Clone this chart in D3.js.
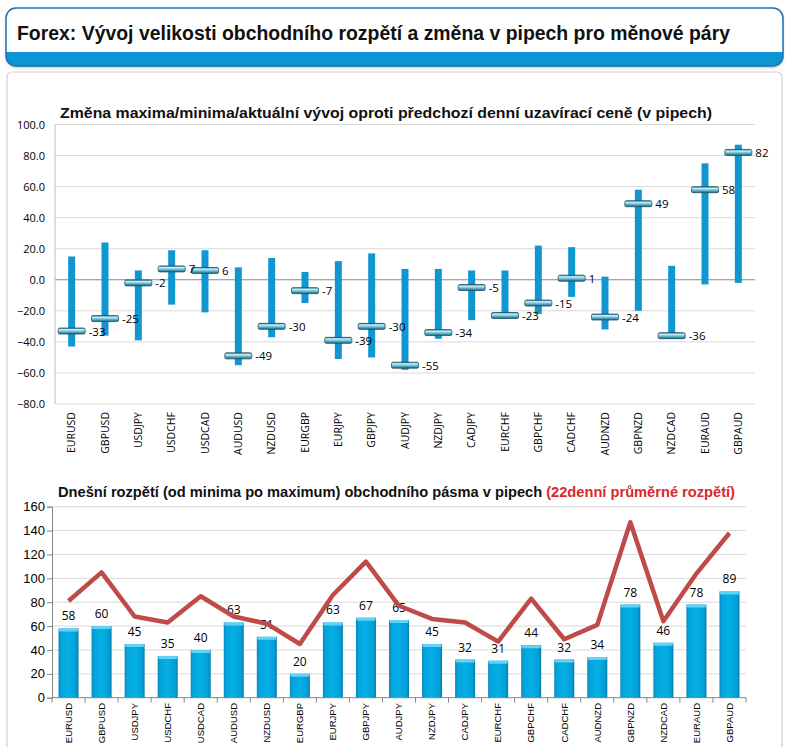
<!DOCTYPE html>
<html><head><meta charset="utf-8">
<script src="https://cdn.jsdelivr.net/npm/d3@7"></script>
<style>html,body{margin:0;padding:0;background:#fff;}svg{display:block;}</style>
</head><body>
<svg id="c" width="794" height="747"></svg>
<script>
const pairs = ["EURUSD","GBPUSD","USDJPY","USDCHF","USDCAD","AUDUSD","NZDUSD","EURGBP","EURJPY","GBPJPY","AUDJPY","NZDJPY","CADJPY","EURCHF","GBPCHF","CADCHF","AUDNZD","GBPNZD","NZDCAD","EURAUD","GBPAUD"];
const highs = [15,24,6,19,19,8,14,5,12,17,7,7,6,6,22,21,2,58,9,75,87];
const lows = [-43,-36,-39,-16,-21,-55,-37,-15,-51,-50,-58,-38,-26,-25,-22,-11,-32,-20,-37,-3,-2];
const current = [-33,-25,-2,7,6,-49,-30,-7,-39,-30,-55,-34,-5,-23,-15,1,-24,49,-36,58,82];
const ranges = [58,60,45,35,40,63,51,20,63,67,65,45,32,31,44,32,34,78,46,78,89];
const avg22 = [81,105,68,63,85,68,62,45,86,114,77,66,63,47,83,49,61,147,64,104,138];
const topTicks = [-80,-60,-40,-20,0,20,40,60,80,100];
const botTicks = [0,20,40,60,80,100,120,140,160];

const svg = d3.select("#c");
const defs = svg.append("defs");

// shadow filter
const f = defs.append("filter").attr("id","sh").attr("x","-5%").attr("y","-20%").attr("width","110%").attr("height","150%");
f.append("feDropShadow").attr("dx",0).attr("dy",1.5).attr("stdDeviation",1.5).attr("flood-color","#000").attr("flood-opacity",0.3);

// marker gradient
const mg = defs.append("linearGradient").attr("id","mk").attr("x1",0).attr("y1",0).attr("x2",0).attr("y2",1);
[["0%","#2f6e7c"],["25%","#c9f0fb"],["55%","#6cc6e4"],["100%","#1b6178"]].forEach(s=>mg.append("stop").attr("offset",s[0]).attr("stop-color",s[1]));
// bottom bar gradient
const bg = defs.append("linearGradient").attr("id","bb").attr("x1",0).attr("y1",0).attr("x2",1).attr("y2",0);
[["0%","#0b86b8"],["12%","#02a4dc"],["50%","#05afe6"],["88%","#019fd7"],["100%","#0a77a3"]].forEach(s=>bg.append("stop").attr("offset",s[0]).attr("stop-color",s[1]));

// ---------- header ----------
defs.append("clipPath").attr("id","hc").append("rect").attr("x",6).attr("y",8).attr("width",777).attr("height",58).attr("rx",10);
svg.append("rect").attr("x",6).attr("y",8).attr("width",777).attr("height",58).attr("rx",10).attr("fill","#fff").attr("filter","url(#sh)");
svg.append("rect").attr("clip-path","url(#hc)").attr("x",6).attr("y",52).attr("width",777).attr("height",14).attr("fill","#0a96d4");
svg.append("rect").attr("x",6).attr("y",8).attr("width",777).attr("height",58).attr("rx",10).attr("fill","none").attr("stroke","#1f6fae").attr("stroke-width",1.5);
svg.append("text").attr("x",17).attr("y",40).attr("font-family","Liberation Sans, Arial, sans-serif").attr("font-weight","bold").attr("font-size",20)
  .attr("textLength",713).attr("lengthAdjust","spacingAndGlyphs").attr("fill","#111")
  .text("Forex: Vývoj velikosti obchodního rozpětí a změna v pipech pro měnové páry");

// ---------- panel ----------
svg.append("rect").attr("x",7).attr("y",72).attr("width",775).attr("height",700).attr("rx",5).attr("fill","#fff").attr("stroke","#cfcfcf").attr("stroke-width",1.2);

// ---------- top chart ----------
const xT = d3.scaleBand().domain(pairs).range([55,755]).padding(0);
const yT = d3.scaleLinear().domain([-80,100]).range([404,124.5]);
const gT = svg.append("g");
gT.selectAll("line.grid").data(topTicks).join("line")
  .attr("x1",55).attr("x2",755).attr("y1",d=>yT(d)).attr("y2",d=>yT(d))
  .attr("stroke",d=>d===0?"#868686":"#d9d9d9").attr("stroke-width",1);
gT.append("line").attr("x1",55).attr("x2",55).attr("y1",yT(100)).attr("y2",yT(-80)).attr("stroke","#bfbfbf");
gT.selectAll("text.yt").data(topTicks).join("text")
  .attr("x",45).attr("y",d=>yT(d)+4).attr("text-anchor","end")
  .attr("font-family","Open Sans, sans-serif").attr("font-size",11).attr("fill","#000")
  .text(d=>d3.format(".1f")(d));
gT.append("text").attr("x",60).attr("y",118).attr("font-family","Liberation Sans, Arial, sans-serif").attr("font-weight","bold").attr("font-size",14.5)
  .attr("textLength",652).attr("lengthAdjust","spacingAndGlyphs").attr("fill","#111")
  .text("Změna maxima/minima/aktuální vývoj oproti předchozí denní uzavírací ceně (v pipech)");
const cT = d=>xT(d)+xT.bandwidth()/2;
gT.selectAll("rect.rng").data(pairs).join("rect")
  .attr("x",(d)=>cT(d)-3.5).attr("width",7)
  .attr("y",(d,i)=>yT(highs[i])).attr("height",(d,i)=>yT(lows[i])-yT(highs[i]))
  .attr("fill","#1097d1");
gT.selectAll("rect.mk").data(pairs).join("rect")
  .attr("x",d=>cT(d)-13.5).attr("width",27)
  .attr("y",(d,i)=>yT(current[i])-3).attr("height",6).attr("rx",1.5)
  .attr("fill","url(#mk)").attr("stroke","#26505c").attr("stroke-width",0.8);
gT.selectAll("text.lb").data(pairs).join("text")
  .attr("x",d=>cT(d)+17).attr("y",(d,i)=>yT(current[i])+4.5)
  .attr("font-family","Open Sans, sans-serif").attr("font-size",11.5).attr("fill","#000")
  .text((d,i)=>current[i]);
gT.selectAll("text.xl").data(pairs).join("text")
  .attr("transform",d=>`translate(${cT(d)+3.5},412) rotate(-90)`).attr("text-anchor","end")
  .attr("font-family","Open Sans, sans-serif").attr("font-size",10.5).attr("fill","#000")
  .text(d=>d);

// ---------- bottom chart ----------
const xB = d3.scaleBand().domain(pairs).range([52,746]).padding(0);
const yB = d3.scaleLinear().domain([0,160]).range([697.7,506.7]);
const gB = svg.append("g");
gB.selectAll("line.grid").data(botTicks.slice(1)).join("line")
  .attr("x1",52).attr("x2",746).attr("y1",d=>yB(d)).attr("y2",d=>yB(d))
  .attr("stroke","#d9d9d9");
const yAx = gB.append("g").attr("transform","translate(52,0)")
  .call(d3.axisLeft(yB).tickValues(botTicks).tickSize(5).tickPadding(3));
yAx.select(".domain").attr("stroke","#868686");
yAx.selectAll(".tick line").attr("stroke","#868686");
yAx.selectAll(".tick text").attr("font-family","Liberation Sans, Arial, sans-serif").attr("font-size",13).attr("fill","#000").attr("x",-7);
const cB = d=>xB(d)+xB.bandwidth()/2;
gB.append("line").attr("x1",52).attr("x2",746).attr("y1",yB(0)).attr("y2",yB(0)).attr("stroke","#868686");
gB.selectAll("line.xt").data(d3.range(pairs.length+1)).join("line")
  .attr("x1",i=>52+i*xB.step()).attr("x2",i=>52+i*xB.step())
  .attr("y1",yB(0)).attr("y2",yB(0)+5).attr("stroke","#868686");
gB.append("text").attr("x",58).attr("y",497).attr("font-family","Liberation Sans, Arial, sans-serif").attr("font-weight","bold").attr("font-size",14.5)
  .attr("textLength",677).attr("lengthAdjust","spacingAndGlyphs")
  .call(t=>{
    t.append("tspan").attr("fill","#111").text("Dnešní rozpětí (od minima po maximum) obchodního pásma v pipech ");
    t.append("tspan").attr("fill","#d9282d").text("(22denní průměrné rozpětí)");
  });
const bw = 20;
gB.selectAll("rect.bar").data(pairs).join("rect")
  .attr("x",d=>cB(d)-bw/2).attr("width",bw)
  .attr("y",(d,i)=>yB(ranges[i])).attr("height",(d,i)=>yB(0)-yB(ranges[i]))
  .attr("fill","url(#bb)");
gB.selectAll("rect.cap").data(pairs).join("rect")
  .attr("x",d=>cB(d)-bw/2+0.5).attr("width",bw-1)
  .attr("y",(d,i)=>yB(ranges[i])).attr("height",3).attr("rx",1)
  .attr("fill","#62d3f4");
gB.selectAll("text.bl").data(pairs).join("text")
  .attr("x",d=>cB(d)).attr("y",(d,i)=>yB(ranges[i])-8).attr("text-anchor","middle")
  .attr("font-family","Open Sans, sans-serif").attr("font-size",12).attr("fill","#000")
  .text((d,i)=>ranges[i]);
const line = d3.line().x((d,i)=>cB(pairs[i])).y(d=>yB(d));
gB.append("path").datum(avg22).attr("d",line).attr("fill","none")
  .attr("stroke","#be4b48").attr("stroke-width",4.5).attr("stroke-linejoin","round").attr("stroke-linecap","butt");
gB.selectAll("text.xl").data(pairs).join("text")
  .attr("transform",d=>`translate(${cB(d)+3.3},703) rotate(-90)`).attr("text-anchor","end")
  .attr("font-family","Liberation Sans, Arial, sans-serif").attr("font-size",9.5).attr("fill","#000")
  .text(d=>d);
</script>
</body></html>
